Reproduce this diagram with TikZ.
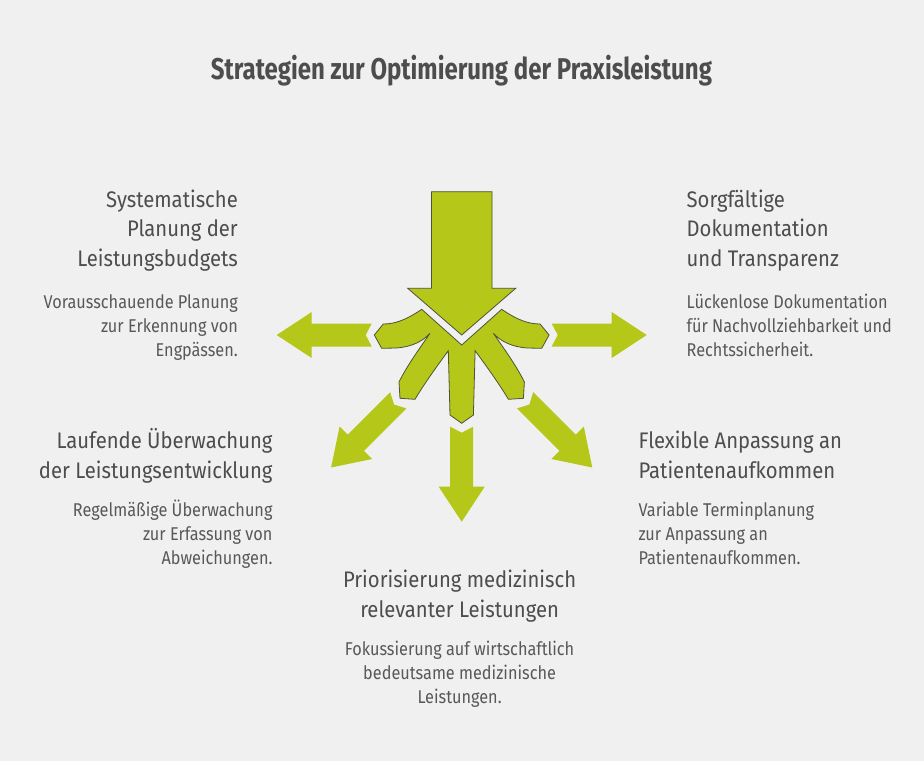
\documentclass[tikz,border=0pt]{standalone}
\usepackage{fontspec}
\setmainfont{Fira Sans}[FakeStretch=0.9]
\newfontfamily\bodyfont{Fira Sans}[FakeStretch=0.88]
\newfontfamily\titlefont{Fira Sans}[FakeStretch=0.8]
\definecolor{bgc}{RGB}{240,240,240}
\definecolor{grn}{RGB}{181,199,24}
\definecolor{edge}{RGB}{80,82,60}
\definecolor{headc}{RGB}{77,77,77}
\definecolor{bodyc}{RGB}{88,88,88}
\newcommand{\outerarrowpath}{(0,-11.5) -- (60,-11.5) -- (60,-23) -- (95,0) -- (60,23) -- (60,11.5) -- (0,11.5) -- (6,0) -- cycle}
\tikzset{
  head/.style={font=\fontsize{22.5}{29.4}\selectfont, text=headc, inner sep=0pt},
  body/.style={font=\bodyfont\fontsize{18.5}{24}\selectfont, text=bodyc, inner sep=0pt},
  outarrow/.style={fill=grn, draw=none},
  hub/.style={fill=grn, draw=edge, line width=0.8pt, line join=miter},
}
\begin{document}
\begin{tikzpicture}[x=1pt,y=-1pt]
\fill[bgc] (0,0) rectangle (924,761);
\useasboundingbox (0,0) rectangle (924,761);
% title
\node[font=\titlefont\fontsize{30}{36}\selectfont\bfseries, text=headc, inner sep=0pt, anchor=base] (title) at (461.5,79) {Strategien zur Optimierung der Praxisleistung};
% big input arrow
\path[hub] (431.4,191.7) -- (492,191.7) -- (492,288.3) -- (515.7,288.3) -- (461.7,335) -- (407.7,288.3) -- (431.4,288.3) -- cycle;
% hub with arms
\path[hub] (421.7,309.3) -- (461.7,345) -- (501.7,309.3)
 .. controls (517.4,320) and (528.4,324) .. (540.1,324)
 -- (549.1,335) -- (541.7,348.3) -- (527.4,348)
 .. controls (511.4,347) and (500.4,341) .. (493.4,333.3)
 .. controls (503.4,348) and (515.4,364) .. (524.4,382)
 -- (523.4,398.3) -- (508.4,399.3)
 .. controls (499.4,384) and (483.4,362) .. (475.1,350.7)
 -- (473.4,415) -- (461.7,423.3) -- (450,415) -- (448.3,350.7)
 .. controls (440,362) and (424,384) .. (415,399.3)
 -- (400,398.3) -- (399,382)
 .. controls (408,364) and (420,348) .. (430,333.3)
 .. controls (423,341) and (412,347) .. (396,348)
 -- (381.7,348.3) -- (374.3,335) -- (383.3,324)
 .. controls (395,324) and (406,320) .. (421.7,309.3) -- cycle;
% outer arrows
\begin{scope}[shift={(371.7,335)}, rotate=180] \path[outarrow] \outerarrowpath; \end{scope}
\begin{scope}[shift={(551.7,335)}, rotate=0] \path[outarrow] \outerarrowpath; \end{scope}
\begin{scope}[shift={(461.7,426.7)}, rotate=-90] \path[outarrow] \outerarrowpath; \end{scope}
\begin{scope}[shift={(398.3,400.3)}, rotate=-135] \path[outarrow] \outerarrowpath; \end{scope}
\begin{scope}[shift={(525.1,400.3)}, rotate=-45] \path[outarrow] \outerarrowpath; \end{scope}
% texts (anchor = baseline of last line)
\node[head, align=right, anchor=base east] (h1) at (238,266) {Systematische\\Planung der\\Leistungsbudgets};
\node[body, align=right, anchor=base east] (b1) at (238,356) {Vorausschauende Planung\\zur Erkennung von\\Engpässen.};
\node[head, align=left, anchor=base west] (h2) at (686.5,266) {Sorgfältige\\Dokumentation\\und Transparenz};
\node[body, align=left, anchor=base west] (b2) at (686.5,356) {Lückenlose Dokumentation\\für Nachvollziehbarkeit und\\Rechtssicherheit.};
\node[head, align=right, anchor=base east] (h3) at (272.7,478.3) {Laufende Überwachung\\der Leistungsentwicklung};
\node[body, align=right, anchor=base east] (b3) at (272.7,564) {Regelmäßige Überwachung\\zur Erfassung von\\Abweichungen.};
\node[head, align=left, anchor=base west] (h4) at (638.3,478.3) {Flexible Anpassung an\\Patientenaufkommen};
\node[body, align=left, anchor=base west] (b4) at (638.3,564) {Variable Terminplanung\\zur Anpassung an\\Patientenaufkommen.};
\node[head, align=center, anchor=base] (h5) at (459.6,617.3) {Priorisierung medizinisch\\relevanter Leistungen};
\node[body, align=center, anchor=base] (b5) at (459.6,703) {Fokussierung auf wirtschaftlich\\bedeutsame medizinische\\Leistungen.};
\end{tikzpicture}
\end{document}
